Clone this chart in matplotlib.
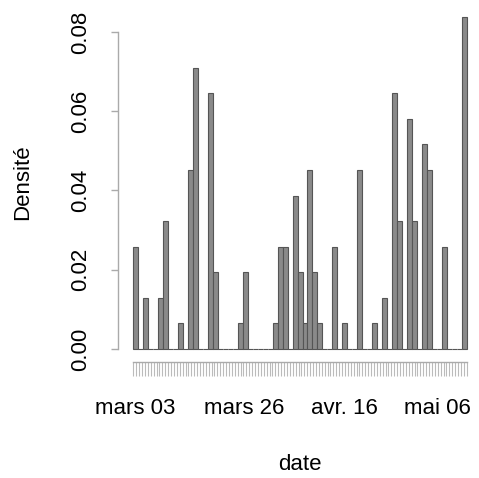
import numpy as np
import matplotlib
matplotlib.use("Agg")
import matplotlib.pyplot as plt

plt.rcParams['font.family'] = ['Liberation Sans', 'DejaVu Sans']

# histogramme journalier : indice du jour -> nombre d'observations
n_days = 67
day_idx = [0, 2, 5, 6, 9, 11, 12, 15, 16, 21, 22, 28, 29, 30, 32, 33, 34, 35,
           36, 37, 40, 42, 45, 48, 50, 52, 53, 55, 56, 58, 59, 62, 66]
counts = [4, 2, 2, 5, 1, 7, 11, 10, 3, 1, 3, 1, 4, 4, 6, 3, 1, 7,
          3, 1, 4, 1, 7, 1, 2, 10, 5, 9, 5, 8, 7, 4, 13]
n_obs = sum(counts)  # 155

# étiquettes de l'axe des x (position en jours depuis le début)
lab_pos = [0.34, 22.2, 42.4, 61.2]
lab_txt = ['mars 03', 'mars 26', 'avr. 16', 'mai 06']

dens = np.zeros(n_days)
dens[day_idx] = np.array(counts) / n_obs
left = np.arange(n_days)

W, H = 479, 478
fig = plt.figure(figsize=(W / 100, H / 100), dpi=100)
ax = fig.add_axes([118 / W, 1 - 362 / H, 361 / W, 359 / H])

ax.bar(left, dens, width=1, align='edge', color='#8a8a8a',
       edgecolor='#555555', linewidth=0.8)

ax.set_xlim(-3.08, 69.47)
ax.set_ylim(-0.00328, 0.0873)

for s in ['top', 'right']:
    ax.spines[s].set_visible(False)
for s in ['left', 'bottom']:
    ax.spines[s].set_color('#aaaaaa')
    ax.spines[s].set_linewidth(1)
ax.spines['left'].set_bounds(0, 0.08)
ax.spines['bottom'].set_bounds(0, n_days)

ax.set_yticks([0, 0.02, 0.04, 0.06, 0.08])
ax.set_yticklabels(['0.00', '0.02', '0.04', '0.06', '0.08'],
                   rotation=90, va='center')
ax.tick_params(axis='y', length=5, width=1, color='#aaaaaa', pad=14,
               labelsize=16)

ax.set_xticks(lab_pos)
ax.set_xticklabels(lab_txt)
ax.set_xticks(np.linspace(0, n_days, 116), minor=True)
ax.tick_params(axis='x', which='major', length=0, pad=26, labelsize=16)
ax.tick_params(axis='x', which='minor', length=10, width=0.8,
               color='#bbbbbb')

fig.text(23 / W, 1 - 182 / H, 'Densité', rotation=90, ha='center',
         va='center', fontsize=16)
fig.text(300 / W, 1 - 464 / H, 'date', ha='center', va='center',
         fontsize=16)

fig.savefig('out.png', dpi=100)
